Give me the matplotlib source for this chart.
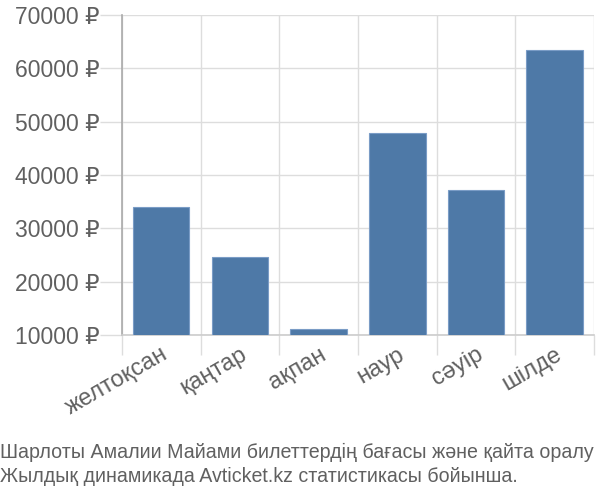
import matplotlib
matplotlib.use("Agg")
import matplotlib.pyplot as plt
import numpy as np

categories = ["желтоқсан", "қаңтар", "ақпан", "наур", "сәуір", "шілде"]
prices = [34000, 24550, 11200, 47800, 37250, 63500]
yticks = [10000, 20000, 30000, 40000, 50000, 60000, 70000]
ytick_labels = ["10000 ₽", "20000 ₽", "30000 ₽", "40000 ₽", "50000 ₽", "60000 ₽", "70000 ₽"]
caption = "Шарлоты Амалии Майами билеттердің бағасы және қайта оралу\nЖылдық динамикада Avticket.kz статистикасы бойынша."

plt.rcParams['font.family'] = ['Liberation Sans', 'DejaVu Sans']

fig = plt.figure(figsize=(6, 5), dpi=100)
ax = fig.add_axes([0.203, 0.33, 0.787, 0.64])

x = np.arange(len(categories))
ax.bar(x, prices, width=0.72, color="#4e79a7", edgecolor="#7a9cc6", linewidth=0.8, zorder=3)

ax.set_xlim(-0.5, len(categories) - 0.5)
ax.set_ylim(10000, 70000)
ax.set_yticks(yticks)
ax.set_yticklabels(ytick_labels, fontsize=16.5, color="#606060")

# boundary ticks / gridlines
ax.set_xticks(np.arange(len(categories) + 1) - 0.5)
ax.set_xticklabels([])
ax.set_xticks(x, minor=True)
ax.set_xticklabels(categories, minor=True, rotation=30, ha="right", rotation_mode="anchor",
                   fontsize=17, color="#606060")
ax.tick_params(axis="x", which="minor", length=0, pad=6)
ax.tick_params(axis="x", which="major", length=14.4, color="#dddddd", width=1)
ax.tick_params(axis="y", length=15.8, color="#dddddd", width=1, pad=0.5)

ax.grid(True, which="major", color="#dddddd", linewidth=1, zorder=0)

for s in ["top", "right"]:
    ax.spines[s].set_visible(False)
ax.spines["left"].set_color("#aaaaaa")
ax.spines["left"].set_linewidth(1.2)
ax.spines["bottom"].set_color("#cccccc")
ax.spines["bottom"].set_linewidth(1.2)

fig.text(0.0, 0.028, caption, fontsize=14.1, color="#606060", ha="left", va="bottom",
         linespacing=1.35)

fig.savefig("out.png", dpi=100)
